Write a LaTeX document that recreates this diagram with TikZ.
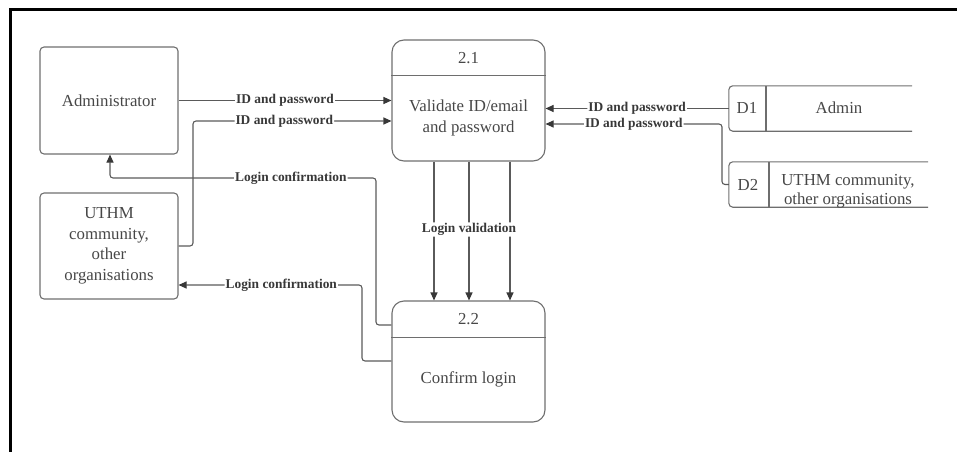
\documentclass[tikz,border=0pt]{standalone}
\usepackage{fontspec}
\setmainfont{Liberation Serif}
\usetikzlibrary{arrows.meta}
\definecolor{edge}{HTML}{6E6E6E}
\definecolor{wire}{HTML}{5A5A5A}
\definecolor{ink}{HTML}{474747}
\definecolor{tipc}{HTML}{383838}
\newcommand\dfdboxfont{\fontsize{16.8}{20.5}\selectfont}
\newcommand\dfdlblfont{\bfseries\fontsize{13.4}{15}\selectfont}
\begin{document}
\begin{tikzpicture}[x=1pt,y=-1pt,
  entity/.style={draw=edge, line width=1.1pt, rounded corners=4pt, inner sep=0pt,
    minimum width=138pt, minimum height=107pt, align=center, text=ink, font=\dfdboxfont},
  procbox/.style={draw=edge, line width=1.1pt, rounded corners=12pt, inner sep=0pt,
    minimum width=153pt, minimum height=121pt},
  txt/.style={inner sep=0pt, align=center, text=ink, font=\dfdboxfont},
  storeframe/.style={draw=none, inner sep=0pt},
  storeline/.style={draw=edge, line width=1.1pt},
  flow/.style={draw=wire, line width=1.1pt, rounded corners=3pt,
    -{Triangle[length=8pt,width=7pt,color=tipc]}},
  lbl/.style={fill=white, inner sep=1pt, text=tipc, font=\dfdlblfont}
]
\useasboundingbox (0,0) rectangle (957,452);

% page frame (top and left edges only)
\draw[line width=2.4pt] (957,9.5) -- (10.3,9.5) -- (10.3,452);

% external entities
\node[entity] (adm) at (109,100.5) {Administrator};
\node[entity, minimum height=106pt] (uthm) at (109,246) {UTHM\\community,\\other\\organisations};

% process 2.1
\node[procbox] (p1) at (468.5,100.5) {};
\draw[storeline] ([yshift=-36pt]p1.north west) -- ([yshift=-36pt]p1.north east);
\node[txt] (p1num) at (468.5,58) {2.1};
\node[txt] (p1txt) at (468.5,118) {Validate ID/email\\and password};

% process 2.2
\node[procbox] (p2) at (468.5,361.5) {};
\draw[storeline] ([yshift=-37pt]p2.north west) -- ([yshift=-37pt]p2.north east);
\node[txt] (p2num) at (468.5,319) {2.2};
\node[txt] (p2txt) at (468.5,379) {Confirm login};

% data stores (open on the right)
\node[storeframe, minimum width=183pt, minimum height=45pt] (d1) at (820.5,108.5) {};
\draw[storeline, rounded corners=4pt] (d1.north east) -- (d1.north west) -- (d1.south west) -- (d1.south east);
\draw[storeline] (766,86) -- (766,131);
\node[txt] (d1id) at (747,108) {D1};
\node[txt] (d1name) at (839,108) {Admin};

\node[storeframe, minimum width=199pt, minimum height=45pt] (d2) at (828.5,184.5) {};
\draw[storeline, rounded corners=4pt] (d2.north east) -- (d2.north west) -- (d2.south west) -- (d2.south east);
\draw[storeline] (769,162) -- (769,207);
\node[txt] (d2id) at (748,185) {D2};
\node[txt, font=\fontsize{16.8}{19}\selectfont] (d2name) at (848,191) {UTHM community,\\other organisations};

% login data into 2.1
\draw[flow] (adm.east) -- node[lbl] {ID and password} (adm.east -| p1.west);
\draw[flow] (uthm.east) -- (193,246) -- (193,121)
  -- node[lbl, pos=0.46] {ID and password} (p1.west |- 0,121);
\draw[flow] (d1.west) -- node[lbl] {ID and password} (d1.west -| p1.east);
\draw[flow] (d2.west) -- (722,184.5) -- (722,124)
  -- node[lbl] {ID and password} (p1.east |- 0,124);

% confirmations back to the entities
\draw[flow] (p2.west |- 0,325) -- (376,325) -- (376,178)
  -- node[lbl, pos=0.32] {Login confirmation} (110,178) -- (adm.south -| 110,0);
\draw[flow] (p2.west |- 0,361) -- (362,361) -- (362,285)
  -- node[lbl, pos=0.44] {Login confirmation} (uthm.east |- 0,285);

% validation flows from 2.1 to 2.2
\draw[flow] (p1.south -| 434,0) -- (p2.north -| 434,0);
\draw[flow] (p1.south -| 510,0) -- (p2.north -| 510,0);
\draw[flow] (p1.south -| 469,0) -- node[lbl, pos=0.49] {Login validation} (p2.north -| 469,0);
\end{tikzpicture}
\end{document}
